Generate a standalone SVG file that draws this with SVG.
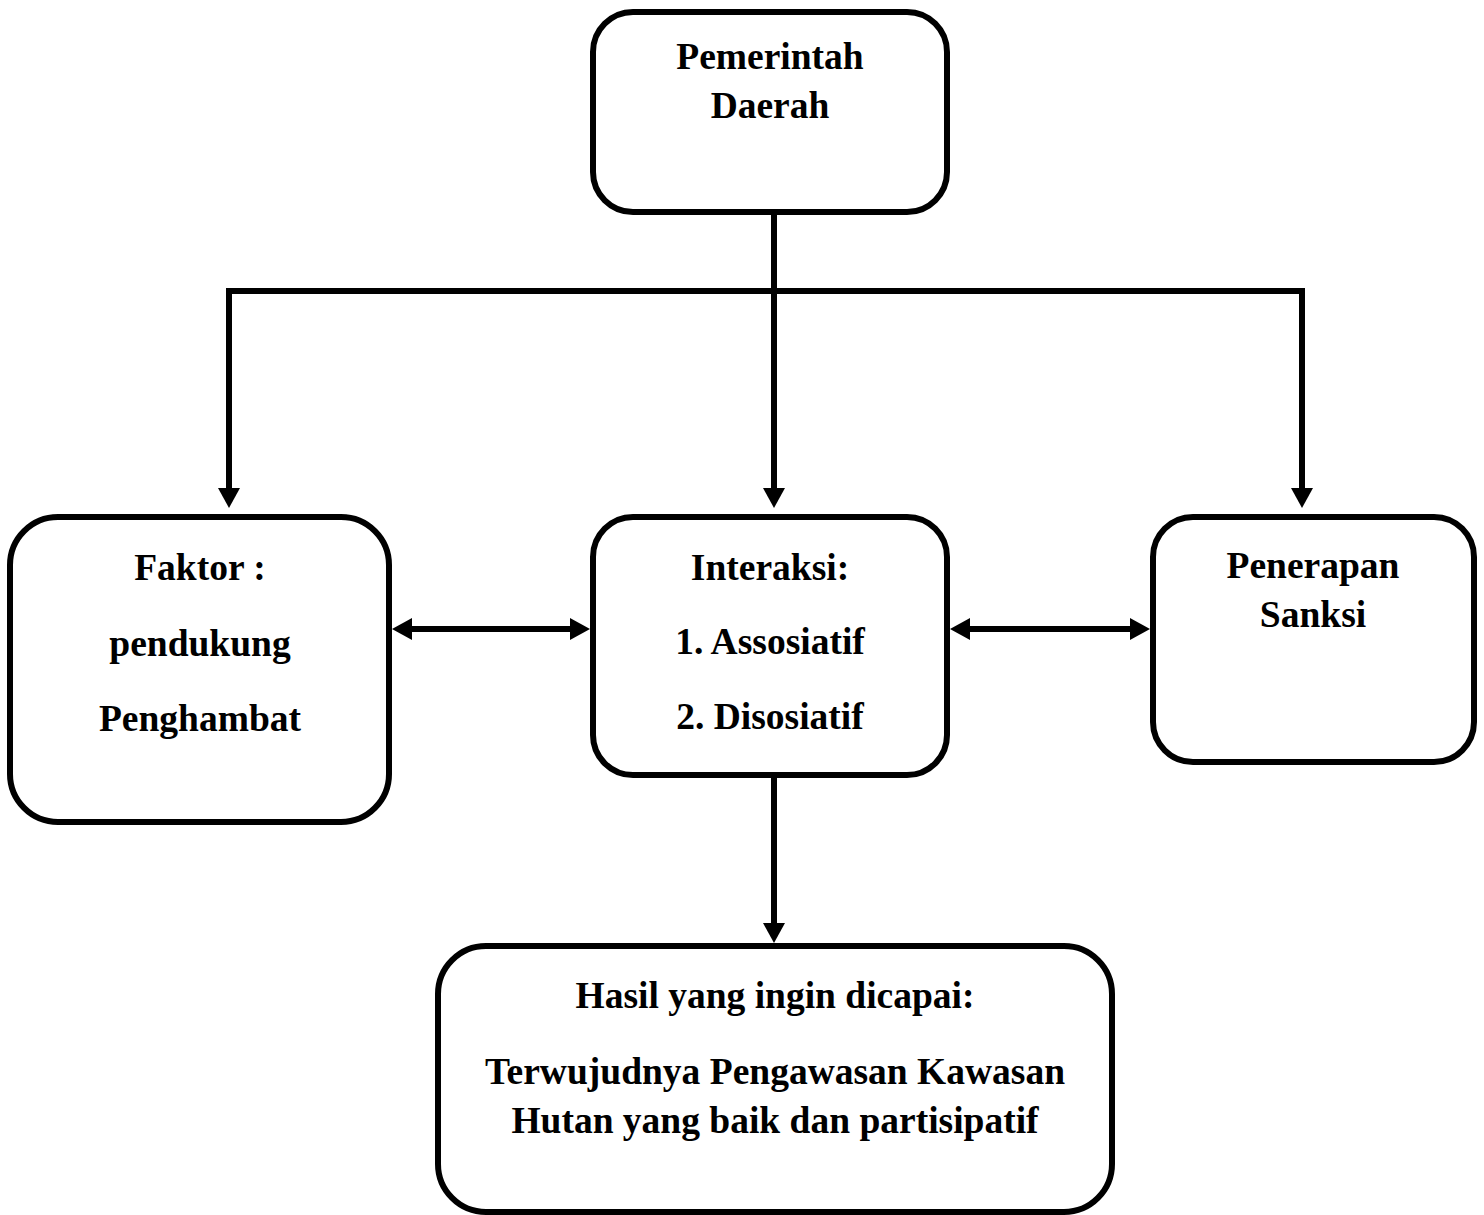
<svg xmlns="http://www.w3.org/2000/svg" width="1484" height="1215" viewBox="0 0 1484 1215">
<style>
.box{fill:#fff;stroke:#000;stroke-width:6}
.t{font-family:"Liberation Serif","Times New Roman",serif;font-weight:bold;font-size:37.5px;fill:#000;text-anchor:middle}
.c{fill:none;stroke:#000;stroke-width:6}
</style>
<defs>
<marker id="ah" markerUnits="userSpaceOnUse" markerWidth="22" markerHeight="22" viewBox="0 0 22 22" refX="1" refY="11" orient="auto-start-reverse">
<path d="M0,0 L20,11 L0,22 Z" fill="#000"/>
</marker>
</defs>
<rect width="1484" height="1215" fill="#fff"/>
<g id="connectors">
<path class="c" d="M774,212 V489" marker-end="url(#ah)"/>
<path class="c" d="M229,489 V291 H1302 V489" marker-start="url(#ah)" marker-end="url(#ah)"/>
<path class="c" d="M411,629 H571" marker-start="url(#ah)" marker-end="url(#ah)"/>
<path class="c" d="M969,629 H1131" marker-start="url(#ah)" marker-end="url(#ah)"/>
<path class="c" d="M774,775 V924" marker-end="url(#ah)"/>
</g>
<g id="pemerintah">
<rect class="box" x="593" y="12" width="354" height="200" rx="40"/>
<text class="t" x="770" y="69">Pemerintah</text>
<text class="t" x="770" y="118">Daerah</text>
</g>
<g id="faktor">
<rect class="box" x="10" y="517" width="379" height="305" rx="48"/>
<text class="t" x="200" y="580">Faktor :</text>
<text class="t" x="200" y="656">pendukung</text>
<text class="t" x="200" y="731">Penghambat</text>
</g>
<g id="interaksi">
<rect class="box" x="593" y="517" width="354" height="258" rx="40"/>
<text class="t" x="770" y="580">Interaksi:</text>
<text class="t" x="770" y="654">1. Assosiatif</text>
<text class="t" x="770" y="729">2. Disosiatif</text>
</g>
<g id="sanksi">
<rect class="box" x="1153" y="517" width="321" height="245" rx="40"/>
<text class="t" x="1313" y="578">Penerapan</text>
<text class="t" x="1313" y="627">Sanksi</text>
</g>
<g id="hasil">
<rect class="box" x="438" y="946" width="674" height="266" rx="48"/>
<text class="t" x="775" y="1008">Hasil yang ingin dicapai:</text>
<text class="t" x="775" y="1084">Terwujudnya Pengawasan Kawasan</text>
<text class="t" x="775" y="1133">Hutan yang baik dan partisipatif</text>
</g>
</svg>
